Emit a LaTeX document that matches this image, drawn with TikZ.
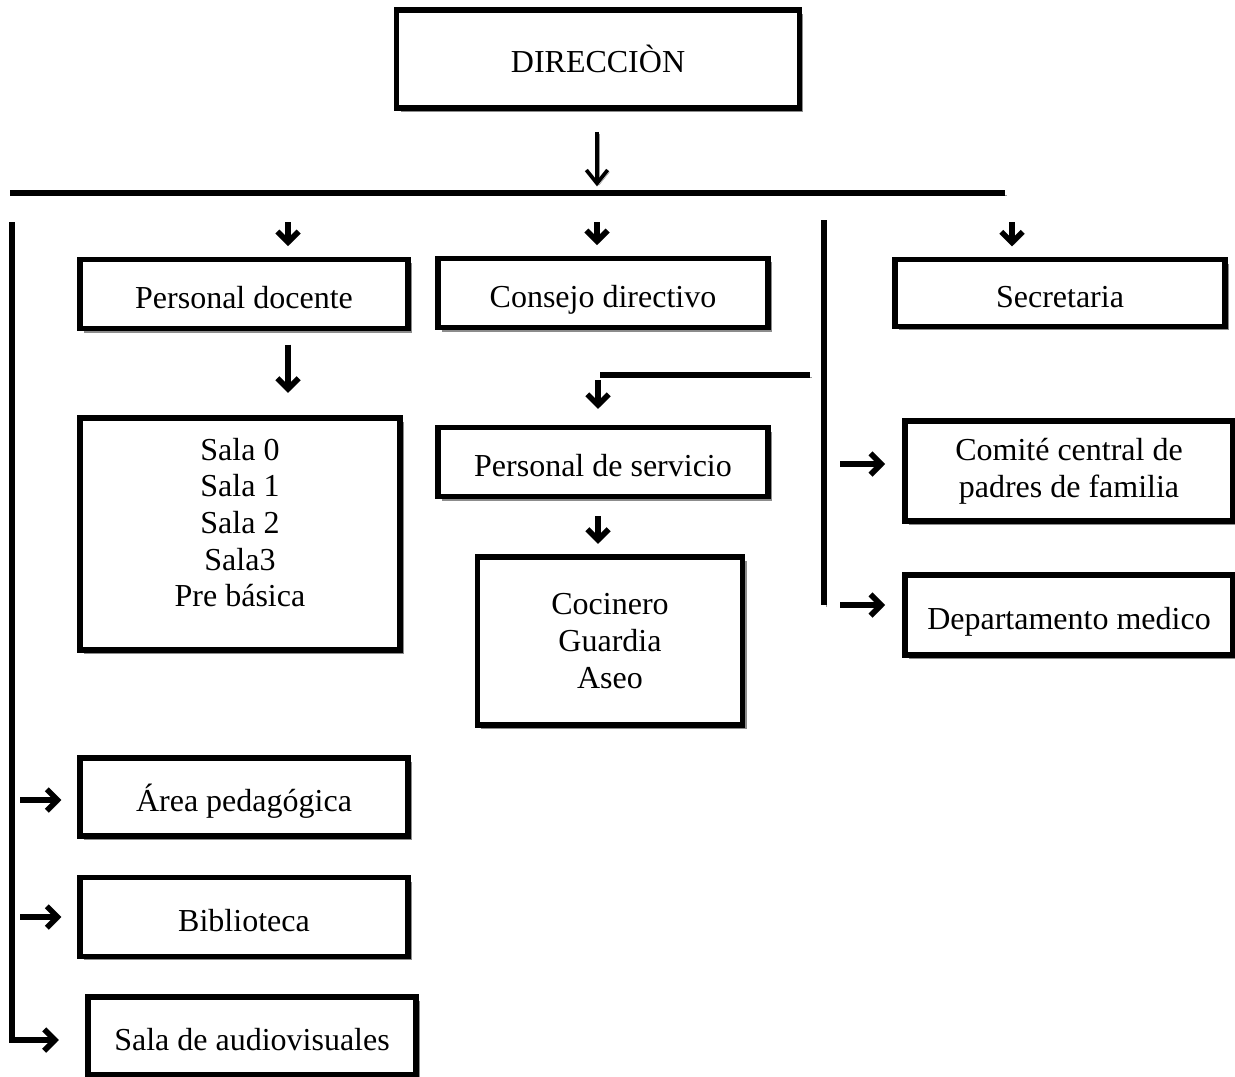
\documentclass[tikz,border=0pt]{standalone}
\usepackage{fontspec}
\setmainfont{Liberation Serif}
\usetikzlibrary{arrows.meta,shadows,calc}

\begin{document}
\begin{tikzpicture}[x=0.75pt,y=-0.75pt,
    box/.style={rectangle,draw,fill=white,line width=3.8pt,inner sep=0pt,align=center,
        font=\fontsize{24pt}{27.5pt}\selectfont,
        drop shadow={shadow xshift=3pt,shadow yshift=-3pt,fill=black!45,opacity=1}},
    one/.style={text height=23pt,text depth=2pt},
    shade line/.style={preaction={draw=black!40,transform canvas={shift={(1.4pt,-1.4pt)}}}},
    line/.style={line width=4.2pt,shade line},
    arrow/.style={line width=4.2pt,-{Straight Barb[length=8pt,width=16pt]},shade line}
]
\useasboundingbox (0,0) rectangle (1235,1077);

% === Top ===
\node[box,one,minimum width=302pt,minimum height=73.5pt] (direccion) at (598,59) {DIRECCIÒN};
\coordinate (bus) at (597,193);
\draw[arrow,line width=2.8pt,-{Straight Barb[length=10pt,width=16pt]},shorten <=16pt,shorten >=5pt]
    (direccion.south -| bus) -- (bus);
\draw[line,line width=5pt] (10,193) -- (1005,193);

% === Second row ===
\node[box,one,minimum width=246pt,minimum height=52pt] (docente) at (244,294) {Personal docente};
\node[box,one,minimum width=247.5pt,minimum height=52pt] (consejo) at (603,293) {Consejo directivo};
\node[box,one,minimum width=247.5pt,minimum height=50pt] (secretaria) at (1060,293) {Secretaria};

\coordinate (s1) at (288,222);
\coordinate (s2) at (597,222);
\coordinate (s3) at (1012,222);
\draw[arrow,shorten >=8pt] (s1) -- (s1 |- docente.north);
\draw[arrow,shorten >=8pt] (s2) -- (s2 |- consejo.north);
\draw[arrow,shorten >=8pt] (s3) -- (s3 |- secretaria.north);

% === Personal docente branch ===
\node[box,minimum width=240pt,minimum height=174pt] (salas) at (240,534)
    {Sala 0\\Sala 1\\Sala 2\\Sala3\\Pre básica\\[-10pt]};
\draw[arrow,shorten <=10pt,shorten >=17pt] (s1 |- docente.south) -- (s1 |- salas.north);

% === Middle branch ===
\node[box,one,minimum width=247.5pt,minimum height=51.75pt] (servicio) at (603,462) {Personal de servicio};
\node[box,minimum width=199pt,minimum height=126pt] (cocina) at (610,641) {Cocinero\\Guardia\\Aseo};
\coordinate (m1) at (600,375);
\coordinate (m2) at (810,375);
\draw[line] (m1) -- (m2);
\draw[arrow,shorten <=4pt,shorten >=12pt] (m1 -| 598,0) -- (598,0 |- servicio.north);
\draw[arrow,shorten <=13pt,shorten >=8pt] (598,0 |- servicio.south) -- (598,0 |- cocina.north);

% === Right branch ===
\node[box,minimum width=246pt,minimum height=75pt] (comite) at (1069,471) {Comité central de\\padres de familia};
\node[box,one,minimum width=246pt,minimum height=60pt] (medico) at (1069,615) {Departamento medico};
\coordinate (r1) at (824,220);
\coordinate (r2) at (824,605);
\draw[line] (r1) -- (r2);
\draw[arrow,shorten <=12pt,shorten >=13pt] (r1 |- 0,464) -- (comite.west |- 0,464);
\draw[arrow,shorten <=12pt,shorten >=13pt] (r2) -- (medico.west |- r2);

% === Left branch ===
\node[box,one,minimum width=246pt,minimum height=58.5pt] (area) at (244,797) {Área pedagógica};
\node[box,one,minimum width=246pt,minimum height=59pt] (biblio) at (244,917) {Biblioteca};
\node[box,one,minimum width=246pt,minimum height=58.5pt] (audio) at (252,1036) {Sala de audiovisuales};
\coordinate (l1) at (12,222);
\coordinate (l2) at (12,1040);
\draw[arrow,shorten >=20pt] (l1) -- (l2) -- (audio.west |- l2);
\draw[arrow,shorten <=6pt,shorten >=12pt] (l1 |- 0,800) -- (area.west |- 0,800);
\draw[arrow,shorten <=6pt,shorten >=12pt] (l1 |- 0,917) -- (biblio.west |- 0,917);

\end{tikzpicture}
\end{document}
